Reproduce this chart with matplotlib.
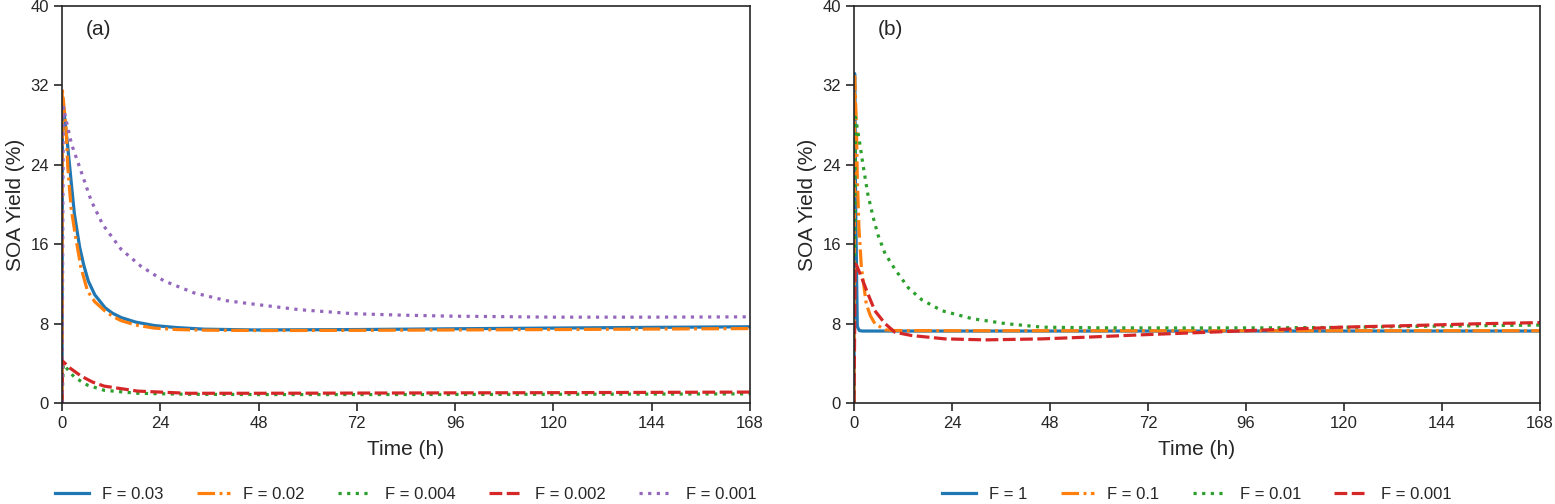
"""Two-panel SOA yield time series: (a) varying F at low values, (b) wider F range."""

import matplotlib
matplotlib.use("Agg")
import matplotlib.pyplot as plt

plt.rcParams["font.family"] = ["Liberation Sans", "DejaVu Sans"]
plt.rcParams["text.color"] = "0.15"
plt.rcParams["axes.labelcolor"] = "0.15"
plt.rcParams["axes.edgecolor"] = "0.15"
plt.rcParams["xtick.color"] = "0.15"
plt.rcParams["ytick.color"] = "0.15"

# panel (a) data
t_a_003 = [0, 0.1, 1.4, 2.2, 3.0, 4.3, 5.3, 6.4, 8.0, 10.5, 12.3, 14.5, 18, 22.6, 28, 34.7, 46.9, 72, 96, 120, 144, 168]
y_a_003 = [0, 30.8, 25.8, 22.4, 19.1, 15.7, 13.9, 12.3, 10.9, 9.6, 9.05, 8.6, 8.15, 7.8, 7.6, 7.44, 7.36, 7.4, 7.48, 7.55, 7.62, 7.68]

t_a_002 = [0, 0.05, 1.0, 1.4, 2.2, 3.2, 4.6, 6.2, 8.0, 10.4, 12.3, 14.4, 18, 22.5, 28, 34.7, 48, 72, 96, 120, 144, 168]
y_a_002 = [0, 31.7, 27.5, 23.8, 19.7, 17.0, 13.7, 11.3, 10.2, 9.3, 8.75, 8.3, 7.85, 7.55, 7.4, 7.34, 7.3, 7.32, 7.36, 7.4, 7.45, 7.5]

t_a_0004 = [0, 0.3, 3.0, 6.2, 10.3, 18.4, 30.6, 48, 72, 96, 120, 144, 168]
y_a_0004 = [0, 3.9, 2.6, 1.8, 1.28, 0.98, 0.88, 0.85, 0.85, 0.86, 0.88, 0.9, 0.92]

t_a_0002 = [0, 0.1, 2.0, 4.7, 7.5, 10.3, 18.4, 30.6, 48, 72, 96, 120, 144, 168]
y_a_0002 = [0, 4.24, 3.5, 2.7, 2.1, 1.7, 1.2, 0.98, 0.98, 1.0, 1.02, 1.04, 1.07, 1.1]

t_a_0001 = [0, 0.3, 2.3, 4.6, 7.1, 9.9, 14.4, 19.2, 24.9, 32.2, 40.3, 46, 58, 71, 83, 95, 120, 144, 168]
y_a_0001 = [0, 29.8, 26.1, 23.4, 20.4, 18.0, 15.5, 13.8, 12.3, 11.1, 10.3, 10.0, 9.4, 9.0, 8.85, 8.75, 8.65, 8.65, 8.68]

# panel (b) data
t_b_1 = [0, 0.15, 0.4, 0.8, 1.3, 2, 24, 48, 96, 168]
y_b_1 = [0, 33.2, 20, 7.7, 7.3, 7.25, 7.25, 7.25, 7.25, 7.25]

t_b_01 = [0, 0.15, 0.6, 0.8, 1.2, 1.8, 3.0, 4.0, 5.1, 7.6, 10, 24, 48, 96, 168]
y_b_01 = [0, 32.9, 27.8, 22.8, 17.7, 13.7, 10.0, 8.8, 8.0, 7.37, 7.3, 7.28, 7.28, 7.28, 7.28]

t_b_001 = [0, 0.35, 1.4, 2.2, 3.4, 4.7, 5.9, 7.6, 10.0, 13.3, 16.6, 21.5, 28.9, 37.1, 46.1, 60, 80, 100, 120, 138, 155, 168]
y_b_001 = [0, 28.8, 26.2, 24.0, 21.0, 18.7, 16.9, 15.05, 13.5, 11.6, 10.4, 9.3, 8.5, 8.0, 7.64, 7.57, 7.56, 7.57, 7.62, 7.72, 7.8, 7.85]

t_b_0001 = [0, 0.3, 0.6, 1.8, 3.4, 5.1, 7.6, 10, 14.1, 22.3, 32.2, 46.1, 58, 70.4, 86.8, 103.2, 119.6, 136, 152.5, 168]
y_b_0001 = [0, 14.0, 13.9, 12.7, 11.0, 9.3, 8.0, 7.13, 6.8, 6.46, 6.36, 6.46, 6.65, 6.87, 7.13, 7.4, 7.64, 7.8, 7.98, 8.1]

x_ticks = [0, 24, 48, 72, 96, 120, 144, 168]
y_ticks = [0, 8, 16, 24, 32, 40]

blue, orange, green, red, purple = "#1f77b4", "#ff7f0e", "#2ca02c", "#d62728", "#9467bd"
lw = 2.3

fig = plt.figure(figsize=(15.55, 5.04), dpi=100)
ax_a = fig.add_axes([0.0399, 0.2004, 0.4424, 0.7877])
ax_b = fig.add_axes([0.5492, 0.2004, 0.4412, 0.7877])

# (a)
ax_a.plot(t_a_003, y_a_003, color=blue, lw=lw, ls="-", label="F = 0.03")
ax_a.plot(t_a_002, y_a_002, color=orange, lw=lw, dashes=(5.5, 1.4, 0.9, 1.4), label="F = 0.02")
ax_a.plot(t_a_0004, y_a_0004, color=green, lw=lw, dashes=(1, 1.7), label="F = 0.004")
ax_a.plot(t_a_0002, y_a_0002, color=red, lw=lw, dashes=(4.0, 1.4), label="F = 0.002")
ax_a.plot(t_a_0001, y_a_0001, color=purple, lw=lw, dashes=(1, 1.7), label="F = 0.001")

# (b)
ax_b.plot(t_b_1, y_b_1, color=blue, lw=lw, ls="-", label="F = 1")
ax_b.plot(t_b_01, y_b_01, color=orange, lw=lw, dashes=(5.5, 1.4, 0.9, 1.4), label="F = 0.1")
ax_b.plot(t_b_001, y_b_001, color=green, lw=lw, dashes=(1, 1.7), label="F = 0.01")
ax_b.plot(t_b_0001, y_b_0001, color=red, lw=lw, dashes=(4.0, 1.4), label="F = 0.001")

for ax, tag, ncol in [(ax_a, "(a)", 5), (ax_b, "(b)", 4)]:
    ax.set_xlim(0, 168)
    ax.set_ylim(0, 40)
    ax.set_xticks(x_ticks)
    ax.set_yticks(y_ticks)
    ax.tick_params(direction="out", length=6, width=1.2, labelsize=12)
    for s in ax.spines.values():
        s.set_linewidth(1.2)
    ax.set_xlabel("Time (h)", fontsize=15, labelpad=6)
    ax.set_ylabel("SOA Yield (%)", fontsize=15, labelpad=4)
    ax.text(0.035, 0.94, tag, transform=ax.transAxes, fontsize=15, va="center")
    ax.legend(loc="center", bbox_to_anchor=(0.5, -0.23), ncol=ncol, frameon=False,
              fontsize=12, handlelength=2.0, handletextpad=0.8, columnspacing=2.0)

fig.savefig("out.png", dpi=100)
